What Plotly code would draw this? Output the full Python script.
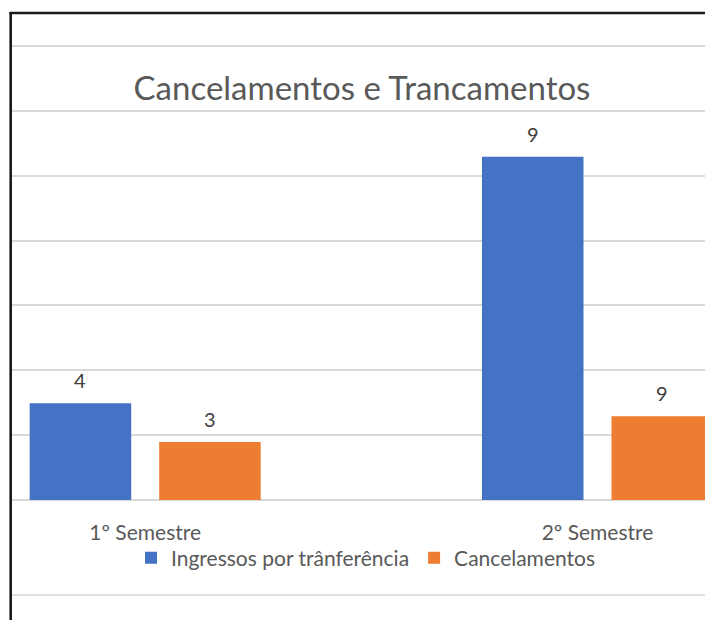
import plotly.graph_objects as go

# --- data -------------------------------------------------------------
semestres = ["1º Semestre", "2º Semestre"]
ingressos = [1.49, 5.29]          # bar heights, Ingressos por trânferência
cancelamentos = [0.895, 1.29]     # bar heights, Cancelamentos
rotulos_ingressos = ["4", "9"]    # data labels printed above the bars
rotulos_cancelamentos = ["3", "9"]

# --- figure geometry (pixels) -----------------------------------------
W, H = 705, 620
ML, MR, MT, MB = 11, 0, 44, 120
PW, PH = W - ML - MR, H - MT - MB


def px_x(px):
    return (px - ML) / PW


def px_y(py):
    return (H - MB - py) / PH


FONT = "Lato, 'Open Sans', sans-serif"
GRID = "#d9d9d9"
BLUE = "#4472C4"
ORANGE = "#ED7D31"

fig = go.Figure()
fig.add_trace(go.Bar(x=semestres, y=ingressos, name="Ingressos por trânferência",
                     marker=dict(color=BLUE, line=dict(width=0))))
fig.add_trace(go.Bar(x=semestres, y=cancelamentos, name="Cancelamentos",
                     marker=dict(color=ORANGE, line=dict(width=0))))

# data labels above each bar
bar_offset = 64.7
for vals, labels, shift in [(ingressos, rotulos_ingressos, -bar_offset),
                            (cancelamentos, rotulos_cancelamentos, bar_offset)]:
    for cat, v, lab in zip(semestres, vals, labels):
        fig.add_annotation(x=cat, y=v, text=lab, showarrow=False,
                           xshift=shift, yshift=23, yanchor="middle",
                           font=dict(family=FONT, size=20, color="#404040"))

# chart frame and the lower rule
shapes = [
    dict(type="line", xref="paper", yref="paper",
         x0=px_x(10.7), x1=px_x(10.7), y0=px_y(12), y1=px_y(H + 5),
         line=dict(color="#1a1a1a", width=2.6)),
    dict(type="line", xref="paper", yref="paper",
         x0=px_x(9.5), x1=px_x(W + 5), y0=px_y(13), y1=px_y(13),
         line=dict(color="#1a1a1a", width=2.4)),
    dict(type="line", xref="paper", yref="paper",
         x0=px_x(12), x1=px_x(W + 5), y0=px_y(595), y1=px_y(595),
         line=dict(color=GRID, width=1.5)),
]

fig.update_layout(
    width=W, height=H,
    margin=dict(l=ML, r=MR, t=MT, b=MB, pad=0),
    paper_bgcolor="white", plot_bgcolor="white",
    barmode="group", bargap=0.4273, bargroupgap=0.216,
    title=dict(text="Cancelamentos e Trancamentos", x=px_x(362), xref="paper",
               xanchor="center", y=1 - 88 / H, yanchor="middle",
               font=dict(family=FONT, size=33, color="#595959")),
    showlegend=True,
    legend=dict(orientation="h", x=px_x(366), xanchor="center",
                y=px_y(558), yanchor="middle", itemwidth=30,
                font=dict(family=FONT, size=21, color="#595959"),
                bgcolor="rgba(0,0,0,0)", itemclick=False),
    shapes=shapes,
    xaxis=dict(type="category", range=[-0.2967, 1.2377],
               showgrid=False, zeroline=False, showline=False, ticks="",
               ticklabelstandoff=18,
               tickfont=dict(family=FONT, size=21, color="#595959")),
    yaxis=dict(range=[0, 7.03], dtick=1, showgrid=True, gridcolor=GRID,
               gridwidth=1.5, zeroline=True, zerolinecolor=GRID,
               zerolinewidth=1.5, showticklabels=False, showline=False,
               ticks=""),
)

fig.write_html("out.html")
